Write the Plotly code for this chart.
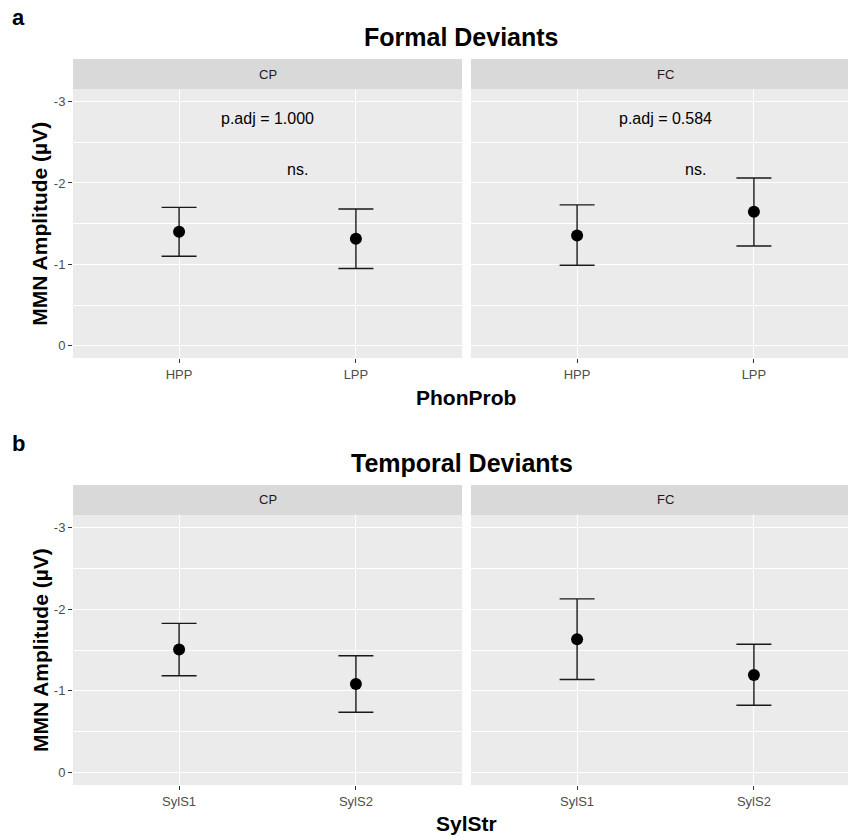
import plotly.graph_objects as go

# ---- data -------------------------------------------------------------
facets = ["CP", "FC"]
phon_levels = ["HPP", "LPP"]
syl_levels = ["SylS1", "SylS2"]
y_ticks = [-3, -2, -1, 0]
y_tick_labels = ["-3", "-2", "-1", "0"]

# Formal deviants (PhonProb): mean MMN amplitude with CI bounds
formal_cp_mean = [-1.40, -1.315]
formal_cp_low = [-1.70, -1.68]
formal_cp_high = [-1.10, -0.95]
formal_fc_mean = [-1.355, -1.645]
formal_fc_low = [-1.73, -2.06]
formal_fc_high = [-0.99, -1.225]

# Temporal deviants (SylStr)
temporal_cp_mean = [-1.505, -1.085]
temporal_cp_low = [-1.825, -1.43]
temporal_cp_high = [-1.185, -0.74]
temporal_fc_mean = [-1.63, -1.195]
temporal_fc_low = [-2.125, -1.57]
temporal_fc_high = [-1.14, -0.825]

# pairwise comparisons for formal deviants
formal_p_adj = ["1.000", "0.584"]
formal_signif = ["ns.", "ns."]
p_label_y = -2.79
signif_label_y = -2.165
signif_label_x = 0.67

# ---- layout geometry ----------------------------------------------------
W, H = 848, 838
FONT = "Liberation Sans, Arial, sans-serif"
PANEL_BG = "#EBEBEB"
STRIP_BG = "#D9D9D9"

left_px = (73, 462)
right_px = (471, 848)
full_w = left_px[1] - left_px[0]
x_range_left = [-0.6, 1.6]
x_range_right = [-0.6, -0.6 + 2.2 * (right_px[1] - right_px[0]) / full_w]

rows = {
    "a": dict(top=89.3, bottom=358, strip=(59, 89.3)),
    "b": dict(top=515, bottom=785, strip=(485, 515)),
}


def px_x(v):
    return v / W


def px_y(v):
    return 1 - v / H


fig = go.Figure()

panels = [
    # (row, facet index, categories, mean, low, high)
    ("a", 0, phon_levels, formal_cp_mean, formal_cp_low, formal_cp_high),
    ("a", 1, phon_levels, formal_fc_mean, formal_fc_low, formal_fc_high),
    ("b", 0, syl_levels, temporal_cp_mean, temporal_cp_low, temporal_cp_high),
    ("b", 1, syl_levels, temporal_fc_mean, temporal_fc_low, temporal_fc_high),
]

layout_axes = {}
for i, (row, fi, cats, mean, low, high) in enumerate(panels, start=1):
    xa = "x" if i == 1 else f"x{i}"
    ya = "y" if i == 1 else f"y{i}"
    pos = list(range(len(cats)))
    fig.add_trace(go.Scatter(
        x=pos, y=mean, xaxis=xa, yaxis=ya, mode="markers",
        marker=dict(color="black", size=12),
        error_y=dict(
            type="data", symmetric=False,
            array=[h - m for h, m in zip(high, mean)],
            arrayminus=[m - l for m, l in zip(mean, low)],
            color="#1a1a1a", thickness=1.4, width=17.5,
        ),
        showlegend=False, hoverinfo="skip",
    ))
    r = rows[row]
    xdom = left_px if fi == 0 else right_px
    xrange = x_range_left if fi == 0 else x_range_right
    key_x = "xaxis" if i == 1 else f"xaxis{i}"
    key_y = "yaxis" if i == 1 else f"yaxis{i}"
    layout_axes[key_x] = dict(
        domain=[px_x(xdom[0]), px_x(xdom[1])], range=xrange,
        anchor=ya, tickmode="array", tickvals=pos, ticktext=cats,
        showgrid=True, gridcolor="white", gridwidth=1.3, zeroline=False,
        ticks="outside", ticklen=4, tickwidth=1, tickcolor="#333333",
        tickfont=dict(family=FONT, size=13, color="#4D4D4D"),
        showline=False, fixedrange=True,
    )
    layout_axes[key_y] = dict(
        domain=[px_y(r["bottom"]), px_y(r["top"])], range=[0.15, -3.15],
        anchor=xa, tickmode="array", tickvals=y_ticks, ticktext=y_tick_labels,
        showgrid=True, gridcolor="white", gridwidth=1.3, zeroline=False,
        minor=dict(tickmode="array", tickvals=[-2.5, -1.5, -0.5],
                   showgrid=True, gridcolor="white", gridwidth=0.6, ticks=""),
        ticks="outside" if fi == 0 else "", ticklen=4, tickwidth=1,
        tickcolor="#333333", showticklabels=(fi == 0),
        tickfont=dict(family=FONT, size=13, color="#4D4D4D"),
        showline=False, fixedrange=True,
    )

shapes = []
annotations = []

# facet strips
for row, r in rows.items():
    for fi, xdom in enumerate([left_px, right_px]):
        shapes.append(dict(
            type="rect", xref="paper", yref="paper", layer="below",
            x0=px_x(xdom[0]), x1=px_x(xdom[1]),
            y0=px_y(r["strip"][1]), y1=px_y(r["strip"][0]),
            fillcolor=STRIP_BG, line=dict(width=0),
        ))
        annotations.append(dict(
            xref="paper", yref="paper",
            x=px_x((left_px[0] + left_px[1]) / 2) if fi == 0
            else px_x(right_px[0] + full_w / 2),
            y=px_y((r["strip"][0] + r["strip"][1]) / 2),
            text=facets[fi], showarrow=False,
            font=dict(family=FONT, size=13, color="#1A1A1A"),
            xanchor="center", yanchor="middle",
        ))

# p-value and significance labels for formal deviants
for fi in range(2):
    xa = "x" if fi == 0 else "x2"
    ya = "y" if fi == 0 else "y2"
    annotations.append(dict(
        xref=xa, yref=ya, x=0.5, y=p_label_y,
        text=f"p.adj = {formal_p_adj[fi]}", showarrow=False,
        font=dict(family=FONT, size=16, color="black"),
        xanchor="center", yanchor="middle",
    ))
    annotations.append(dict(
        xref=xa, yref=ya, x=signif_label_x, y=signif_label_y,
        text=formal_signif[fi], showarrow=False,
        font=dict(family=FONT, size=16, color="black"),
        xanchor="center", yanchor="middle",
    ))

# titles, tags and axis titles
centre_x = px_x(466)
for tag, title, xtitle, tag_y, title_y, xtitle_y, r in [
    ("a", "Formal Deviants", "PhonProb", 17, 37, 397, rows["a"]),
    ("b", "Temporal Deviants", "SylStr", 443, 463, 823, rows["b"]),
]:
    annotations.append(dict(
        xref="paper", yref="paper", x=px_x(10), y=px_y(tag_y),
        text=f"<b>{tag}</b>", showarrow=False, xanchor="left", yanchor="middle",
        font=dict(family=FONT, size=22, color="black"),
    ))
    annotations.append(dict(
        xref="paper", yref="paper", x=px_x(462), y=px_y(title_y),
        text=f"<b>{title}</b>", showarrow=False, xanchor="center", yanchor="middle",
        font=dict(family=FONT, size=25, color="black"),
    ))
    annotations.append(dict(
        xref="paper", yref="paper", x=centre_x, y=px_y(xtitle_y),
        text=f"<b>{xtitle}</b>", showarrow=False, xanchor="center", yanchor="middle",
        font=dict(family=FONT, size=21, color="black"),
    ))
    annotations.append(dict(
        xref="paper", yref="paper", x=px_x(40),
        y=px_y((r["top"] + r["bottom"]) / 2),
        text="<b>MMN Amplitude (µV)</b>", showarrow=False, textangle=-90,
        xanchor="center", yanchor="middle",
        font=dict(family=FONT, size=21, color="black"),
    ))

fig.update_layout(
    width=W, height=H, margin=dict(l=0, r=0, t=0, b=0),
    paper_bgcolor="white", plot_bgcolor=PANEL_BG,
    shapes=shapes, annotations=annotations, **layout_axes,
)

fig.write_html("out.html")
